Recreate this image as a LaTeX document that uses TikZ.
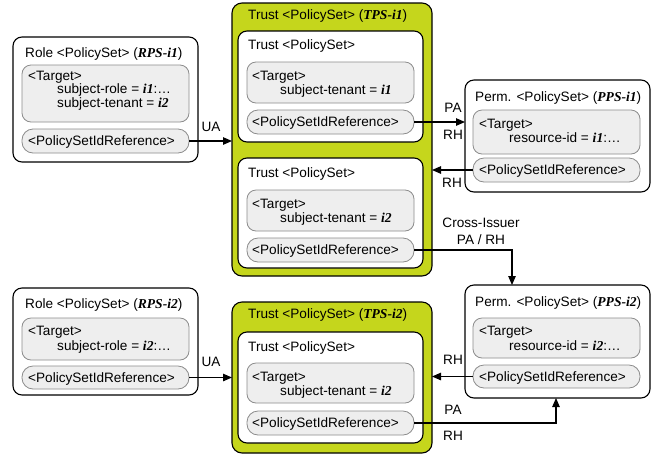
\documentclass[tikz,border=0pt]{standalone}
\usepackage{fontspec}
\setmainfont{Liberation Sans}
\newfontfamily\tnr{Liberation Serif}
\usetikzlibrary{arrows.meta}
\definecolor{trustgreen}{RGB}{197,214,28}
\definecolor{boxgray}{RGB}{238,238,238}
\definecolor{linegray}{RGB}{140,140,140}
\newcommand{\bi}[1]{{\tnr\bfseries\itshape #1}}
\begin{document}
\begin{tikzpicture}[x=1pt,y=-1pt,
  font=\fontsize{13.6}{15}\selectfont,
  outerbox/.style={draw=black, line width=1.1pt, fill=white, rounded corners=9pt, anchor=north west, inner sep=0pt, outer sep=0pt},
  greenbox/.style={draw=black, line width=1.1pt, fill=trustgreen, rounded corners=10pt, anchor=north west, inner sep=0pt, outer sep=0pt},
  targetbox/.style={draw=linegray, line width=0.8pt, fill=boxgray, rounded corners=9pt, anchor=north west, inner sep=0pt, outer sep=0pt, minimum width=167pt},
  refbox/.style={draw=linegray, line width=0.8pt, fill=boxgray, rounded corners=11pt, anchor=north west, inner sep=0pt, outer sep=0pt, minimum width=167pt},
  txt/.style={anchor=base west, inner sep=0pt},
  lbl/.style={inner sep=0pt},
  conn/.style={line width=1.1pt, -{Triangle[length=9pt,width=7.5pt]}}
]
\useasboundingbox (0,0) rectangle (662,459);

% ---------- Role PolicySet RPS-i1 ----------
\node[outerbox, minimum width=185pt, minimum height=125pt] (rps1) at (13,37) {};
\node[txt] (rps1title) at (25,57) {Role <PolicySet> (\bi{RPS-i1})};
\node[targetbox, minimum height=57pt] (rps1tgt) at (22,65) {};
\node[txt] (rps1t1) at (28,80) {<Target>};
\node[txt] (rps1t2) at (57,93.5) {subject-role = \bi{i1}:…};
\node[txt] (rps1t3) at (57,107) {subject-tenant = \bi{i2}};
\node[refbox, minimum height=24pt] (rps1ref) at (22,129) {};
\node[txt] (rps1reft) at (28,145.5) {<PolicySetIdReference>};

% ---------- Trust PolicySet TPS-i1 ----------
\node[greenbox, minimum width=200pt, minimum height=273pt] (tps1) at (232,3) {};
\node[txt] (tps1title) at (248,19.5) {Trust <PolicySet> (\bi{TPS-i1})};
\node[outerbox, minimum width=185pt, minimum height=111pt] (tps1a) at (238,31) {};
\node[txt] (tps1atitle) at (248,49.5) {Trust <PolicySet>};
\node[targetbox, minimum height=41pt] (tps1atgt) at (247,62) {};
\node[txt] (tps1at1) at (252,80) {<Target>};
\node[txt] (tps1at2) at (280,94) {subject-tenant = \bi{i1}};
\node[refbox, minimum height=24pt] (tps1aref) at (247,110) {};
\node[txt] (tps1areft) at (252,126.5) {<PolicySetIdReference>};

\node[outerbox, minimum width=185pt, minimum height=110pt] (tps1b) at (238,158) {};
\node[txt] (tps1btitle) at (248,177.5) {Trust <PolicySet>};
\node[targetbox, minimum height=41pt] (tps1btgt) at (247,190) {};
\node[txt] (tps1bt1) at (252,208) {<Target>};
\node[txt] (tps1bt2) at (280,222) {subject-tenant = \bi{i2}};
\node[refbox, minimum height=24pt] (tps1bref) at (247,238) {};
\node[txt] (tps1breft) at (252,254.5) {<PolicySetIdReference>};

% ---------- Perm PolicySet PPS-i1 ----------
\node[outerbox, minimum width=185pt, minimum height=112pt] (pps1) at (465,80) {};
\node[txt] (pps1title) at (475,101.5) {Perm. <PolicySet> (\bi{PPS-i1})};
\node[targetbox, minimum height=44pt] (pps1tgt) at (473,110) {};
\node[txt] (pps1t1) at (479,128.5) {<Target>};
\node[txt] (pps1t2) at (509,142.5) {resource-id = \bi{i1}:…};
\node[refbox, minimum height=24pt] (pps1ref) at (473,158) {};
\node[txt] (pps1reft) at (479,174.5) {<PolicySetIdReference>};

% ---------- Role PolicySet RPS-i2 ----------
\node[outerbox, minimum width=185pt, minimum height=107pt] (rps2) at (13,288) {};
\node[txt] (rps2title) at (25,308.5) {Role <PolicySet> (\bi{RPS-i2})};
\node[targetbox, minimum height=42pt] (rps2tgt) at (22,318) {};
\node[txt] (rps2t1) at (28,335.5) {<Target>};
\node[txt] (rps2t2) at (57,350) {subject-role = \bi{i2}:…};
\node[refbox, minimum height=23pt] (rps2ref) at (22,366) {};
\node[txt] (rps2reft) at (28,382) {<PolicySetIdReference>};

% ---------- Trust PolicySet TPS-i2 ----------
\node[greenbox, minimum width=200pt, minimum height=151pt] (tps2) at (232,302) {};
\node[txt] (tps2title) at (248,318) {Trust <PolicySet> (\bi{TPS-i2})};
\node[outerbox, minimum width=185pt, minimum height=111pt] (tps2a) at (238,332) {};
\node[txt] (tps2atitle) at (248,351.5) {Trust <PolicySet>};
\node[targetbox, minimum height=40pt] (tps2atgt) at (247,363) {};
\node[txt] (tps2at1) at (252,381) {<Target>};
\node[txt] (tps2at2) at (280,395.5) {subject-tenant = \bi{i2}};
\node[refbox, minimum height=24pt] (tps2aref) at (247,411) {};
\node[txt] (tps2areft) at (252,427.5) {<PolicySetIdReference>};

% ---------- Perm PolicySet PPS-i2 ----------
\node[outerbox, minimum width=185pt, minimum height=113pt] (pps2) at (465,285) {};
\node[txt] (pps2title) at (475,306.5) {Perm. <PolicySet> (\bi{PPS-i2})};
\node[targetbox, minimum height=40pt] (pps2tgt) at (473,318) {};
\node[txt] (pps2t1) at (479,335.5) {<Target>};
\node[txt] (pps2t2) at (509,350) {resource-id = \bi{i2}:…};
\node[refbox, minimum height=23pt] (pps2ref) at (473,365) {};
\node[txt] (pps2reft) at (479,381) {<PolicySetIdReference>};

% ---------- connectors ----------
\coordinate (ua1e) at (tps1.west |- rps1ref.east);
\draw[conn] (rps1ref.east) -- (ua1e);
\node[lbl] (ua1) at (211,127) {UA};

\coordinate (pa1e) at (pps1.west |- tps1aref.east);
\draw[conn] (tps1aref.east) -- (pa1e);
\node[lbl] (pa1) at (453,108) {PA};
\node[lbl] (rh1) at (453,135) {RH};

\coordinate (rh2e) at (tps1.east |- pps1ref.west);
\draw[conn] (pps1ref.west) -- (rh2e);
\node[lbl] (rh2) at (452,183) {RH};

\coordinate (cib) at (512,0);
\draw[conn] (tps1bref.east) -| (cib |- pps2.north);
\node[lbl] (ci1) at (481,223) {Cross-Issuer};
\node[lbl] (ci2) at (481,240) {PA / RH};

\coordinate (ua2e) at (tps2.west |- rps2ref.east);
\draw[conn] (rps2ref.east) -- (ua2e);
\node[lbl] (ua2) at (211,362) {UA};

\coordinate (rh3e) at (tps2.east |- pps2ref.west);
\draw[conn] (pps2ref.west) -- (rh3e);
\node[lbl] (rh3) at (453,360) {RH};

\coordinate (pab) at (556,0);
\draw[conn] (tps2aref.east) -| (pab |- pps2.south);
\node[lbl] (pa2) at (453,410) {PA};
\node[lbl] (rh4) at (453,436) {RH};
\end{tikzpicture}
\end{document}
